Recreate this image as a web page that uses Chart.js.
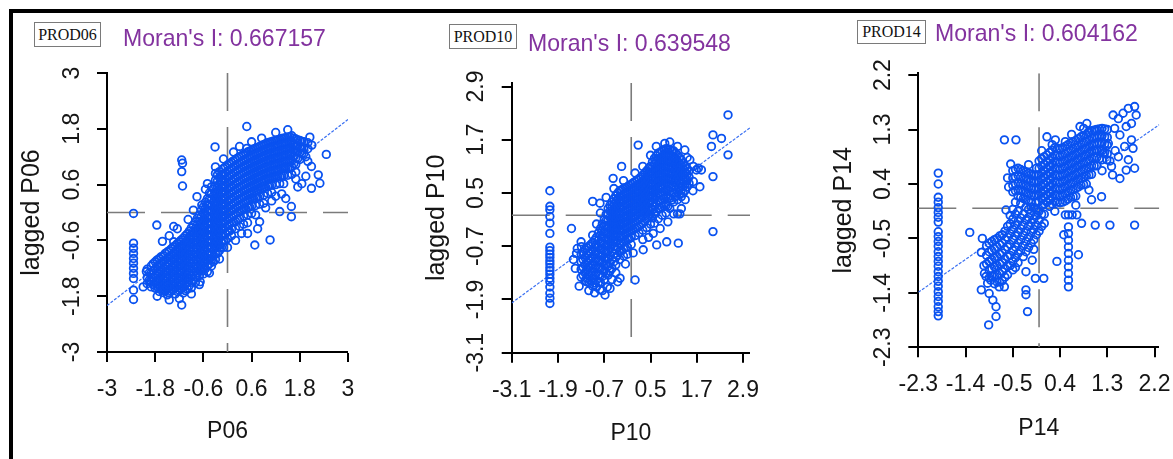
<!DOCTYPE html>
<html><head><meta charset="utf-8">
<script src="https://cdn.jsdelivr.net/npm/chart.js@4.4.1/dist/chart.umd.min.js"></script>
<style>
html,body{margin:0;padding:0;background:#fff;}
#wrap{position:relative;width:1173px;height:459px;overflow:hidden;background:#fff;}
#wrap canvas{position:absolute;top:0;}
.frame{position:absolute;left:9px;top:9px;width:1200px;height:500px;border-top:4px solid #000;border-left:4px solid #000;z-index:5;pointer-events:none;}
.box{position:absolute;font-family:"Liberation Serif","Times New Roman",serif;font-size:16px;color:#111;border:1px solid #7a7a7a;text-align:center;box-sizing:border-box;z-index:6;background:#fff;}
.moran{position:absolute;font-family:"Liberation Sans",Arial,sans-serif;font-size:24px;color:#83339f;white-space:nowrap;line-height:1;transform:scaleX(0.96);transform-origin:0 0;z-index:6;}
</style>
</head><body>
<div id="wrap"><div class="frame"></div></div>
<script>
// ---------- DATA ----------
const moranI = [0.667157, 0.639548, 0.604162];
const prodNames = ['PROD06', 'PROD10', 'PROD14'];
const xTitles = ['P06', 'P10', 'P14'];
const yTitles = ['lagged P06', 'lagged P10', 'lagged P14'];

const p06Ticks = [-3, -1.8, -0.6, 0.6, 1.8, 3];
const p06TickLabels = ['-3', '-1.8', '-0.6', '0.6', '1.8', '3'];
const p10Ticks = [-3.1, -1.9, -0.7, 0.5, 1.7, 2.9];
const p10TickLabels = ['-3.1', '-1.9', '-0.7', '0.5', '1.7', '2.9'];
const p14Ticks = [-2.3, -1.4, -0.5, 0.4, 1.3, 2.2];
const p14TickLabels = ['-2.3', '-1.4', '-0.5', '0.4', '1.3', '2.2'];

const p06XRange = [-3, 3], p06YRange = [-3, 3];
const p10XRange = [-3.1, 3.08], p10YRange = [-3.1, 2.98];
const p14XRange = [-2.3, 2.29], p14YRange = [-2.3, 2.23];

const p06Fit = [[-3, -2.0], [3, 2.0]];
const p10Fit = [[-3.1, -1.98], [3.08, 1.97]];
const p14Fit = [[-2.3, -1.39], [2.29, 1.38]];

// dense parts read column by column: [x, [y values]]
const p06Cols = [
 [-2.34,[-0.02,-0.66,-0.77,-0.88,-0.99,-1.09,-1.2,-1.31,-1.42,-1.67,-1.87]],
 [-2.0,[-1.22,-1.4,-1.53]],
 [-1.95,[-1.3,-1.46]],
 [-1.9,[-1.15,-1.3,-1.47,-1.6]],
 [-1.85,[-1.1,-1.25,-1.4,-1.55]],
 [-1.8,[-1.06,-1.21,-1.35,-1.5,-1.63]],
 [-1.75,[-1.02,-1.17,-1.31,-1.46,-1.6]],
 [-1.7,[-0.99,-1.12,-1.28,-1.41,-1.56,-1.7]],
 [-1.65,[-0.95,-1.09,-1.24,-1.37,-1.51,-1.64]],
 [-1.6,[-0.93,-1.05,-1.2,-1.32,-1.46,-1.58,-1.72]],
 [-1.55,[-0.88,-1.02,-1.15,-1.29,-1.42,-1.55,-1.69]],
 [-1.5,[-0.85,-0.99,-1.11,-1.26,-1.38,-1.52,-1.64,-1.77]],
 [-1.45,[-0.82,-0.95,-1.08,-1.22,-1.35,-1.48,-1.61,-1.73]],
 [-1.4,[-0.78,-0.92,-1.04,-1.18,-1.3,-1.44,-1.56,-1.69]],
 [-1.35,[-0.74,-0.88,-1.01,-1.14,-1.27,-1.4,-1.53,-1.66]],
 [-1.3,[-0.71,-0.84,-0.98,-1.1,-1.24,-1.36,-1.5,-1.62,-1.75]],
 [-1.25,[-0.67,-0.8,-0.93,-1.06,-1.19,-1.32,-1.45,-1.58,-1.7]],
 [-1.2,[-0.63,-0.77,-0.89,-1.03,-1.15,-1.29,-1.41,-1.55,-1.67]],
 [-1.15,[-0.59,-0.72,-0.86,-0.99,-1.12,-1.25,-1.38,-1.51,-1.64]],
 [-1.1,[-0.55,-0.69,-0.83,-0.95,-1.09,-1.21,-1.35,-1.47,-1.61,-1.73]],
 [-1.05,[-0.5,-0.64,-0.77,-0.9,-1.03,-1.16,-1.29,-1.42,-1.55,-1.68]],
 [-1.0,[-0.46,-0.61,-0.73,-0.87,-0.99,-1.13,-1.25,-1.39,-1.51,-1.65]],
 [-0.95,[-0.4,-0.53,-0.66,-0.79,-0.92,-1.05,-1.18,-1.31,-1.44,-1.57]],
 [-0.9,[-0.33,-0.47,-0.59,-0.73,-0.85,-0.99,-1.11,-1.25,-1.37,-1.5,-1.62]],
 [-0.85,[-0.27,-0.4,-0.53,-0.66,-0.79,-0.92,-1.05,-1.18,-1.31,-1.44]],
 [-0.8,[-0.2,-0.34,-0.48,-0.6,-0.74,-0.86,-1.0,-1.12,-1.26,-1.38,-1.51]],
 [-0.75,[-0.12,-0.26,-0.39,-0.52,-0.65,-0.78,-0.91,-1.04,-1.17,-1.3]],
 [-0.7,[-0.05,-0.19,-0.33,-0.45,-0.59,-0.71,-0.85,-0.97,-1.11,-1.23,-1.36]],
 [-0.65,[0.05,-0.09,-0.22,-0.35,-0.48,-0.61,-0.74,-0.87,-1.0,-1.13,-1.26]],
 [-0.6,[0.12,-0.02,-0.16,-0.28,-0.42,-0.54,-0.68,-0.8,-0.94,-1.06,-1.2,-1.32]],
 [-0.55,[0.22,0.09,-0.04,-0.17,-0.3,-0.43,-0.56,-0.69,-0.82,-0.95,-1.08,-1.21]],
 [-0.5,[0.3,0.16,0.03,-0.11,-0.23,-0.37,-0.49,-0.63,-0.75,-0.89,-1.01,-1.15,-1.27]],
 [-0.45,[0.42,0.29,0.16,0.03,-0.1,-0.23,-0.36,-0.49,-0.62,-0.75,-0.88,-1.0,-1.1]],
 [-0.4,[0.55,0.41,0.28,0.14,0.02,-0.12,-0.24,-0.38,-0.5,-0.64,-0.76,-0.9,-1.02,-1.15]],
 [-0.35,[0.5,0.36,0.23,0.1,-0.03,-0.16,-0.29,-0.42,-0.55,-0.68,-0.81,-0.94,-1.06]],
 [-0.3,[0.98,0.84,0.7,0.57,0.42,0.3,0.16,0.04,-0.1,-0.22,-0.36,-0.48,-0.62,-0.74,-0.88,-1.01]],
 [-0.25,[0.81,0.68,0.55,0.42,0.29,0.16,0.03,-0.1,-0.23,-0.36,-0.49,-0.62,-0.75,-0.88]],
 [-0.2,[0.88,0.75,0.61,0.49,0.35,0.23,0.09,-0.03,-0.17,-0.29,-0.43,-0.55,-0.69,-0.82]],
 [-0.15,[0.82,0.68,0.55,0.42,0.29,0.16,0.03,-0.1,-0.23,-0.36,-0.49,-0.62,-0.75]],
 [-0.1,[0.95,0.81,0.69,0.55,0.43,0.29,0.17,0.03,-0.09,-0.23,-0.35,-0.49,-0.61,-0.75]],
 [-0.05,[0.98,0.85,0.72,0.59,0.46,0.33,0.2,0.07,-0.06,-0.19,-0.32,-0.45,-0.6]],
 [0.0,[1.02,0.89,0.75,0.63,0.49,0.37,0.23,0.11,-0.03,-0.15,-0.29,-0.41,-0.56]],
 [0.05,[1.05,0.92,0.79,0.66,0.53,0.4,0.27,0.14,0.01,-0.12,-0.25,-0.4]],
 [0.1,[1.08,0.94,0.82,0.68,0.56,0.42,0.3,0.16,0.04,-0.1,-0.22,-0.36,-0.5]],
 [0.15,[1.11,0.98,0.85,0.72,0.59,0.46,0.33,0.2,0.07,-0.06,-0.2]],
 [0.2,[1.14,1.01,0.87,0.75,0.61,0.49,0.35,0.23,0.09,-0.03,-0.19,-0.35]],
 [0.25,[1.17,1.04,0.91,0.78,0.65,0.52,0.39,0.26,0.13,0.0,-0.15]],
 [0.3,[1.2,1.06,0.94,0.8,0.68,0.54,0.42,0.28,0.16,0.02,-0.13,-0.3]],
 [0.35,[1.22,1.09,0.96,0.83,0.7,0.57,0.44,0.31,0.18,0.05]],
 [0.4,[1.25,1.12,0.98,0.86,0.72,0.6,0.46,0.34,0.2,0.08,-0.08,-0.25]],
 [0.45,[1.27,1.14,1.01,0.88,0.75,0.62,0.49,0.36,0.23,0.09]],
 [0.5,[1.3,1.16,1.04,0.9,0.78,0.64,0.52,0.38,0.26,0.11,-0.05,-0.22]],
 [0.55,[1.32,1.19,1.06,0.93,0.8,0.67,0.54,0.41,0.28,0.12]],
 [0.6,[1.34,1.21,1.07,0.95,0.81,0.69,0.55,0.43,0.29,0.14,-0.02]],
 [0.65,[1.36,1.23,1.1,0.97,0.84,0.71,0.58,0.45,0.3]],
 [0.7,[1.38,1.24,1.12,0.98,0.86,0.72,0.6,0.46,0.31,0.15,-0.05]],
 [0.75,[1.4,1.27,1.14,1.01,0.88,0.75,0.62,0.48,0.33]],
 [0.8,[1.42,1.29,1.15,1.03,0.89,0.77,0.63,0.5,0.34,0.18]],
 [0.85,[1.44,1.31,1.18,1.05,0.92,0.79,0.66,0.52]],
 [0.9,[1.46,1.32,1.2,1.06,0.94,0.8,0.68,0.53,0.37,0.2]],
 [0.95,[1.48,1.35,1.22,1.09,0.96,0.83,0.7,0.55]],
 [1.0,[1.5,1.37,1.23,1.11,0.97,0.85,0.71,0.57,0.41]],
 [1.05,[1.51,1.38,1.25,1.12,0.99,0.86,0.72,0.58]],
 [1.1,[1.52,1.38,1.26,1.12,1.0,0.86,0.74,0.59,0.43]],
 [1.15,[1.54,1.41,1.28,1.15,1.02,0.89,0.75]],
 [1.2,[1.55,1.42,1.28,1.16,1.02,0.9,0.75,0.6]],
 [1.25,[1.56,1.43,1.3,1.17,1.04,0.91,0.77]],
 [1.3,[1.57,1.43,1.31,1.17,1.05,0.91,0.77,0.62]],
 [1.35,[1.59,1.46,1.33,1.2,1.07,0.93,0.79]],
 [1.4,[1.6,1.47,1.33,1.21,1.07,0.95,0.79,0.62]],
 [1.45,[1.61,1.48,1.35,1.22,1.09,0.95]],
 [1.5,[1.62,1.48,1.36,1.22,1.1,0.95,0.8]],
 [1.55,[1.63,1.5,1.37,1.24,1.1,0.96]],
 [1.6,[1.65,1.52,1.38,1.26,1.11,0.98,0.82]],
 [1.65,[1.6,1.47,1.34,1.2,1.05]],
 [1.7,[1.58,1.44,1.32,1.17,1.03,0.87]],
 [1.75,[1.56,1.43,1.3,1.16]],
 [1.8,[1.55,1.42,1.28,1.14]],
 [1.85,[1.53,1.4,1.27]],
 [1.9,[1.52,1.39,1.27]],
 [2.0,[1.5,1.37]],
 [2.1,[1.45]]
];
const p06Extra = [
 [-1.14,1.13],[-1.12,1.06],[-1.14,0.88],[-1.12,0.57],[-1.76,-0.27],[-1.34,-0.30],[-1.14,-1.99],
 [-0.31,1.41],[0.48,1.85],[0.48,1.38],[2.46,1.25],[2.09,0.52],[2.30,0.63],[2.26,0.81],[2.09,0.99],
 [1.59,0.13],[1.59,-0.09],[1.30,0.02],[0.68,-0.70],[1.06,-0.59],[-0.76,0.34],[-0.64,0.16],[-1.34,-0.63],
 [-2.02,-1.27],[-1.92,-1.49],[-1.59,-1.67],[-1.51,-1.6],[-0.68,-1.49],[1.85,0.62],[1.95,0.78],[1.2,0.35],
 [0.95,0.1],[0.8,-0.2],[0.35,-0.45],[1.45,0.3],[1.7,0.72],[2.0,1.1],
 [-1.62,-0.62],[-1.45,-0.5],[-1.25,-0.35],[-0.98,-0.15],[-0.85,0.05],[-0.55,0.5],[-0.5,0.62],[-0.1,1.15],
 [0.15,1.3],[0.3,1.42],[0.6,1.52],[0.85,1.6],[1.2,1.72],[1.5,1.78],[2.05,1.62],[1.95,1.2],[1.75,0.55],
 [1.35,0.4],[1.1,0.25],[0.75,-0.35],[0.5,-0.45],[0.2,-0.6],[0.0,-0.75],[-0.2,-1.0],[-0.45,-1.3],
 [-0.7,-1.55],[-0.9,-1.75],[-1.2,-1.85],[-1.45,-1.88],[-1.75,-1.8],[-2.1,-1.6]
];

const p10Cols = [
 [-2.11,[0.55,0.2,0.12,-0.03,-0.18,-0.41,-0.72,-0.8,-0.88,-0.95,-1.03,-1.1,-1.18,-1.25,-1.33,-1.42,-1.5,-1.62,-1.76,-1.87,-1.99]],
 [-1.3,[-0.88,-1.05,-1.22,-1.4]],
 [-1.25,[-0.83,-1.0,-1.17,-1.35]],
 [-1.2,[-0.78,-0.95,-1.12,-1.3,-1.48]],
 [-1.15,[-0.74,-0.9,-1.07,-1.24,-1.42]],
 [-1.1,[-0.7,-0.86,-1.02,-1.18,-1.35,-1.52]],
 [-1.05,[-0.66,-0.82,-0.98,-1.14,-1.3,-1.47]],
 [-1.0,[-0.62,-0.78,-0.94,-1.1,-1.26,-1.42,-1.6]],
 [-0.95,[-0.56,-0.72,-0.88,-1.04,-1.2,-1.36,-1.53]],
 [-0.9,[-0.5,-0.66,-0.82,-0.98,-1.14,-1.3,-1.46,-1.62]],
 [-0.85,[-0.4,-0.56,-0.72,-0.88,-1.04,-1.2,-1.36,-1.52]],
 [-0.8,[-0.3,-0.45,-0.6,-0.75,-0.9,-1.05,-1.2,-1.36,-1.52]],
 [-0.75,[-0.2,-0.35,-0.5,-0.64,-0.78,-0.92,-1.07,-1.22,-1.38]],
 [-0.7,[-0.1,-0.24,-0.38,-0.52,-0.66,-0.8,-0.95,-1.1,-1.26,-1.45]],
 [-0.65,[0.02,-0.12,-0.26,-0.4,-0.54,-0.68,-0.82,-0.97,-1.12,-1.3]],
 [-0.6,[0.15,0.02,-0.12,-0.26,-0.4,-0.54,-0.68,-0.82,-0.98,-1.15,-1.35]],
 [-0.55,[0.22,0.09,-0.05,-0.19,-0.33,-0.47,-0.61,-0.75,-0.9,-1.08,-1.26]],
 [-0.5,[0.3,0.17,0.04,-0.1,-0.24,-0.38,-0.52,-0.66,-0.82,-1.0,-1.2]],
 [-0.45,[0.37,0.24,0.11,-0.03,-0.16,-0.29,-0.42,-0.56,-0.7,-0.87,-1.05]],
 [-0.4,[0.44,0.31,0.18,0.05,-0.08,-0.21,-0.34,-0.48,-0.62,-0.78,-0.95,-1.12]],
 [-0.35,[0.5,0.37,0.24,0.1,-0.03,-0.16,-0.29,-0.43,-0.57,-0.72,-0.9]],
 [-0.3,[0.55,0.42,0.29,0.16,0.03,-0.1,-0.23,-0.36,-0.5,-0.65,-0.82,-1.0]],
 [-0.25,[0.57,0.44,0.31,0.18,0.05,-0.08,-0.21,-0.34,-0.48,-0.63,-0.8]],
 [-0.2,[0.6,0.47,0.34,0.21,0.08,-0.05,-0.18,-0.31,-0.45,-0.6,-0.76,-0.92]],
 [-0.15,[0.62,0.49,0.36,0.23,0.1,-0.03,-0.16,-0.29,-0.43,-0.58,-0.74]],
 [-0.1,[0.64,0.51,0.38,0.25,0.12,-0.01,-0.14,-0.27,-0.4,-0.55,-0.72,-0.88]],
 [-0.05,[0.67,0.54,0.41,0.28,0.15,0.02,-0.11,-0.24,-0.38,-0.53]],
 [0.0,[0.7,0.57,0.44,0.31,0.18,0.05,-0.08,-0.21,-0.35,-0.5,-0.66]],
 [0.05,[0.73,0.6,0.47,0.34,0.21,0.08,-0.05,-0.18,-0.33]],
 [0.1,[0.76,0.63,0.5,0.37,0.24,0.11,-0.02,-0.15,-0.3,-0.46]],
 [0.15,[0.79,0.66,0.53,0.4,0.27,0.14,0.01,-0.13,-0.28]],
 [0.2,[0.82,0.69,0.56,0.43,0.3,0.17,0.04,-0.1,-0.25,-0.4]],
 [0.25,[0.86,0.73,0.6,0.47,0.34,0.21,0.08,-0.06,-0.21]],
 [0.3,[0.9,0.77,0.64,0.51,0.38,0.25,0.12,-0.02,-0.18,-0.34]],
 [0.35,[0.95,0.82,0.69,0.56,0.43,0.3,0.17,0.03,-0.13]],
 [0.4,[1.0,0.87,0.74,0.61,0.48,0.35,0.22,0.08,-0.08,-0.28]],
 [0.45,[1.05,0.92,0.79,0.66,0.53,0.4,0.27,0.13,-0.03]],
 [0.5,[1.1,0.97,0.84,0.71,0.58,0.45,0.32,0.18,0.02,-0.2]],
 [0.55,[1.2,1.07,0.94,0.81,0.68,0.55,0.42,0.28,0.12,-0.06]],
 [0.6,[1.28,1.15,1.02,0.89,0.76,0.63,0.5,0.36,0.2,0.02,-0.18]],
 [0.65,[1.34,1.21,1.08,0.95,0.82,0.69,0.56,0.42,0.26,0.08]],
 [0.7,[1.4,1.27,1.14,1.01,0.88,0.75,0.62,0.48,0.32,0.14,-0.08]],
 [0.75,[1.42,1.29,1.16,1.03,0.9,0.77,0.64,0.5,0.34,0.16]],
 [0.8,[1.45,1.32,1.19,1.06,0.93,0.8,0.67,0.52,0.36,0.18,0.0]],
 [0.85,[1.47,1.34,1.21,1.08,0.95,0.82,0.69,0.54,0.38,0.2]],
 [0.9,[1.5,1.37,1.24,1.11,0.98,0.85,0.72,0.57,0.4,0.22,0.05]],
 [0.95,[1.49,1.36,1.23,1.1,0.97,0.84,0.71,0.56,0.39,0.2]],
 [1.0,[1.48,1.35,1.22,1.09,0.96,0.83,0.7,0.55,0.38,0.15]],
 [1.05,[1.46,1.33,1.2,1.07,0.94,0.81,0.68,0.52,0.34]],
 [1.1,[1.45,1.32,1.19,1.06,0.93,0.8,0.66,0.5,0.3]],
 [1.15,[1.4,1.27,1.14,1.01,0.88,0.74,0.59,0.42]],
 [1.2,[1.35,1.22,1.09,0.96,0.83,0.68,0.52,0.35]],
 [1.25,[1.3,1.17,1.04,0.91,0.78,0.62,0.47]],
 [1.3,[1.25,1.12,0.99,0.86,0.72,0.56,0.42]],
 [1.35,[1.17,1.04,0.91,0.78,0.64,0.5]],
 [1.4,[1.1,0.97,0.84,0.7,0.56]],
 [1.45,[1.05,0.92,0.78,0.64]],
 [1.5,[1.0,0.86,0.72]]
];
const p10Extra = [
 [-1.55,-0.3],[-1.0,0.31],[-0.81,0.27],[-0.25,1.1],[-0.47,0.83],[0.18,1.58],[0.87,1.62],[2.51,2.26],
 [2.12,1.81],[2.34,1.73],[2.08,1.55],[2.51,1.36],[2.12,0.87],[1.69,1.02],[1.78,0.64],[1.61,0.76],
 [2.12,-0.37],[1.22,-0.63],[0.92,-0.6],[0.66,-0.67],[0.31,-0.78],[0.1,-1.46],[-0.68,-1.8],[-0.29,-1.42],
 [-0.81,-1.68],[-1.16,-1.5],[-1.42,-0.86],[-1.29,-0.71],[1.39,1.47],[1.52,1.25],[1.61,1.1],[1.74,1.06],
 [1.82,1.02],[1.09,1.25],[1.1,0.03],[1.2,0.03],[1.26,0.03],[0.57,-0.41],[0.45,-0.5],[-0.62,-1.62],
 [-0.5,-1.45],[-0.95,-1.75],[-0.4,-1.3],[-1.45,-1.2],[-1.5,-1.0],
 [-1.4,-0.75],[-1.3,-0.6],[-1.0,-0.45],[-0.9,-0.2],[-0.8,0.05],[-0.65,0.4],[-0.45,0.6],[-0.2,0.78],
 [0.1,0.95],[0.3,1.1],[0.5,1.35],[0.65,1.55],[1.0,1.65],[1.2,1.55],[1.45,1.3],[1.6,0.55],[1.4,0.35],
 [1.3,0.15],[0.95,-0.15],[0.75,-0.3],[0.3,-0.55],[0.05,-0.85],[-0.15,-1.1],[-0.35,-1.5],[-0.55,-1.65],
 [-0.75,-1.7],[-1.1,-1.7],[-1.35,-1.6]
];

const p14Cols = [
 [-1.92,[0.58,0.4,0.18,0.1,0.01,-0.07,-0.15,-0.23,-0.39,-0.47,-0.55,-0.63,-0.72,-0.8,-0.88,-0.96,-1.05,-1.13,-1.21,-1.29,-1.38,-1.46,-1.54,-1.63,-1.71,-1.78]],
 [-1.0,[-0.62,-0.78,-0.92]],
 [-0.95,[-0.58,-0.72,-0.88,-1.02,-1.15]],
 [-0.9,[-0.55,-0.7,-0.85,-1.0,-1.12]],
 [-0.85,[-0.52,-0.67,-0.82,-0.97,-1.12,-1.25]],
 [-0.8,[-0.5,-0.64,-0.8,-0.95,-1.1,-1.22]],
 [-0.75,[-0.46,-0.6,-0.76,-0.92,-1.08,-1.22]],
 [-0.7,[-0.44,-0.58,-0.74,-0.9,-1.05,-1.2]],
 [-0.65,[-0.38,-0.52,-0.68,-0.84,-1.0,-1.14]],
 [-0.6,[-0.3,-0.48,-0.64,-0.8,-0.95,-1.1]],
 [-0.55,[-0.12,-0.26,-0.42,-0.6,-0.78,-0.95]],
 [-0.5,[0.62,0.5,0.38,0.27,-0.02,-0.18,-0.35,-0.52,-0.7,-0.88,-1.02]],
 [-0.45,[0.64,0.52,0.4,0.29,0.1,-0.1,-0.28,-0.46,-0.64,-0.82]],
 [-0.4,[0.66,0.54,0.42,0.3,0.2,-0.05,-0.22,-0.4,-0.58,-0.75,-0.9]],
 [-0.35,[0.64,0.52,0.4,0.29,0.18,0.08,-0.16,-0.34,-0.52,-0.7]],
 [-0.3,[0.62,0.5,0.39,0.28,0.16,-0.1,-0.28,-0.45,-0.62,-0.8]],
 [-0.25,[0.6,0.48,0.37,0.26,0.14,0.02,-0.2,-0.38,-0.55,-0.72]],
 [-0.2,[0.58,0.47,0.35,0.24,0.12,-0.02,-0.15,-0.3,-0.48,-0.65]],
 [-0.15,[0.56,0.45,0.33,0.22,0.1,0.02,-0.08,-0.24,-0.4,-0.58]],
 [-0.1,[0.55,0.43,0.32,0.2,0.0,-0.18,-0.35,-0.52]],
 [-0.05,[0.66,0.55,0.44,0.33,0.22,0.1,-0.02,-0.12,-0.28,-0.44]],
 [0.0,[0.78,0.66,0.55,0.44,0.33,0.22,0.11,-0.05,-0.2,-0.38]],
 [0.05,[0.82,0.7,0.59,0.48,0.37,0.26,0.15,0.04,-0.1,-0.3]],
 [0.1,[0.85,0.73,0.62,0.51,0.4,0.29,0.18,0.07,-0.1,-0.25]],
 [0.15,[0.88,0.77,0.66,0.55,0.44,0.33,0.22,0.1]],
 [0.2,[0.92,0.8,0.69,0.58,0.47,0.36,0.25,0.14,0.03]],
 [0.25,[0.96,0.84,0.73,0.62,0.51,0.4,0.29,0.18,0.07]],
 [0.3,[1.0,0.88,0.77,0.66,0.55,0.44,0.33,0.22,0.11]],
 [0.35,[0.99,0.87,0.76,0.65,0.54,0.43,0.32,0.21,0.1]],
 [0.4,[0.98,0.86,0.75,0.64,0.53,0.42,0.31,0.2,0.09]],
 [0.45,[1.0,0.88,0.77,0.66,0.55,0.44,0.33,0.22,0.1]],
 [0.5,[1.02,0.9,0.79,0.68,0.57,0.46,0.35,0.24,0.12]],
 [0.55,[1.05,0.93,0.82,0.71,0.6,0.49,0.38,0.27,0.15]],
 [0.6,[1.08,0.96,0.85,0.74,0.63,0.52,0.41,0.3,0.18]],
 [0.65,[1.1,0.98,0.87,0.76,0.65,0.54,0.43,0.31,0.19]],
 [0.7,[1.12,1.0,0.89,0.78,0.67,0.56,0.45,0.33,0.2]],
 [0.75,[1.15,1.03,0.92,0.81,0.7,0.59,0.48,0.35]],
 [0.8,[1.18,1.06,0.95,0.84,0.73,0.62,0.5,0.38]],
 [0.85,[1.2,1.08,0.97,0.86,0.75,0.64,0.52,0.39]],
 [0.9,[1.22,1.1,0.99,0.88,0.77,0.66,0.54,0.4]],
 [0.95,[1.25,1.13,1.02,0.91,0.8,0.68,0.55]],
 [1.0,[1.28,1.16,1.05,0.94,0.83,0.7,0.56]],
 [1.05,[1.29,1.17,1.06,0.95,0.84,0.7]],
 [1.1,[1.3,1.18,1.07,0.96,0.84,0.7]],
 [1.15,[1.31,1.19,1.07,0.95,0.82]],
 [1.2,[1.32,1.2,1.08,0.95,0.8]],
 [1.25,[1.31,1.18,1.06,0.92]],
 [1.3,[1.3,1.17,1.04,0.9]],
 [0.56,[-0.31,-0.42,-0.53,-0.64,-0.75,-0.86,-0.97,-1.08,-1.19,-1.3]]
];
const p14Extra = [
 [-1.32,-0.40],[-1.1,-0.73],[-1.1,-1.35],[-1.01,-1.13],[-0.98,-1.24],[-0.95,-1.41],[-0.88,-1.52],[-0.95,-0.88],
 [-0.82,-1.63],[-0.96,-1.93],[-0.82,-1.79],[-0.76,-1.3],[-0.66,-1.3],[-1.04,-1.08],[-0.92,-1.19],
 [-0.25,-1.35],[-0.25,-1.43],[-0.22,-1.71],[-0.07,-1.16],[0.09,-1.16],[-0.25,-1.05],[-0.13,-0.86],
 [-0.66,1.13],[-0.44,1.13],[-0.54,0.73],[0.15,1.18],[0.31,1.13],[0.5,1.1],
 [0.34,-0.88],[0.75,-0.77],[0.47,-0.44],[0.5,-0.11],[0.56,-0.11],[0.63,-0.11],[0.72,-0.11],
 [0.81,-0.25],[1.07,-0.28],[1.35,-0.28],[1.82,-0.28],[1.0,0.14],[1.19,0.19],[-0.63,-0.03],
 [1.41,1.54],[1.51,1.48],[1.6,1.57],[1.7,1.65],[1.82,1.68],[1.85,1.54],[1.76,1.4],[1.66,1.35],
 [1.44,1.32],[1.54,1.21],[1.76,1.13],[1.63,1.02],[1.79,0.99],[1.51,0.85],[1.7,0.8],[1.82,0.66],
 [1.66,0.63],[1.54,0.49],[1.38,0.69],[1.29,0.8],[1.32,1.07],[1.19,1.18],[1.07,1.29],[0.91,1.4],
 [0.78,1.35],[0.94,1.26],[1.1,0.96],[1.22,0.91],[1.45,0.95],[1.4,0.55],
 [-0.58,0.35],[-0.6,0.5],[-0.2,0.72],[0.05,0.95],[0.25,1.05],[0.62,1.22],[0.85,1.32],[1.35,0.78],
 [1.2,0.62],[0.95,0.3],[0.7,0.05],[0.3,-0.05],[-1.08,-0.5],[-1.05,-0.95],[-0.45,-0.98],[-0.1,-0.68]
];

// ---------- LAYOUT (page pixel geometry of each panel) ----------
const panels = [
 {cx:0,   cw:400, L:107,   R:348,   T:73,   B:352,   ticks:p06Ticks, labels:p06TickLabels, xr:p06XRange, yr:p06YRange, fit:p06Fit, cols:p06Cols, extra:p06Extra, xPadB:15.5,
  box:{l:34,t:22,w:67,h:25}, mor:{l:123,t:26}},
 {cx:405, cw:375, L:511.7, R:750,   T:83,   B:352.7, ticks:p10Ticks, labels:p10TickLabels, xr:p10XRange, yr:p10YRange, fit:p10Fit, cols:p10Cols, extra:p10Extra, xPadB:13.5,
  box:{l:449,t:24,w:68,h:25}, mor:{l:528,t:31}},
 {cx:810, cw:375, L:918.3, R:1161.7,T:73.3, B:347.3, ticks:p14Ticks, labels:p14TickLabels, xr:p14XRange, yr:p14YRange, fit:p14Fit, cols:p14Cols, extra:p14Extra, xPadB:18.5,
  box:{l:857,t:20,w:69,h:24}, mor:{l:935,t:21}}
];

const wrap = document.getElementById('wrap');
const FONT = '"Liberation Sans", Arial, sans-serif';

panels.forEach((p, i) => {
  const cv = document.createElement('canvas');
  cv.width = p.cw; cv.height = 459;
  cv.style.left = p.cx + 'px'; cv.style.width = p.cw + 'px'; cv.style.height = '459px';
  wrap.appendChild(cv);

  const box = document.createElement('div');
  box.className = 'box';
  Object.assign(box.style, {left:p.box.l+'px', top:p.box.t+'px', width:p.box.w+'px', height:p.box.h+'px', lineHeight:(p.box.h-2)+'px'});
  box.textContent = prodNames[i];
  wrap.appendChild(box);

  const mt = document.createElement('div');
  mt.className = 'moran';
  Object.assign(mt.style, {left:p.mor.l+'px', top:p.mor.t+'px'});
  mt.textContent = "Moran's I: " + moranI[i].toFixed(6);
  wrap.appendChild(mt);

  const pts = [];
  p.cols.forEach(([x, ys]) => ys.forEach(y => pts.push({x, y})));
  p.extra.forEach(([x, y]) => pts.push({x, y}));

  const tickFont = {family: FONT, size: 23};
  new Chart(cv, {
    type: 'scatter',
    data: { datasets: [
      { data: pts, pointStyle: 'circle', pointRadius: 3.8, pointBorderWidth: 1.8,
        pointBorderColor: '#0a52f0', pointBackgroundColor: 'rgba(0,0,0,0)', showLine: false, order: 0 },
      { type: 'line', data: p.fit.map(([x, y]) => ({x, y})), borderColor: '#3a70f2', borderWidth: 1.2,
        borderDash: [3, 1.5], pointRadius: 0, fill: false, order: 1 },
      { type: 'line', data: [{x: 0, y: p.yr[1]}, {x: 0, y: p.yr[0]}], borderColor: '#7b7b7b', borderWidth: 1.6,
        borderDash: [38, 16], pointRadius: 0, fill: false, order: 2 },
      { type: 'line', data: [{x: p.xr[0], y: 0}, {x: p.xr[1], y: 0}], borderColor: '#7b7b7b', borderWidth: 1.6,
        borderDash: [38, 16], pointRadius: 0, fill: false, order: 3 }
    ]},
    options: {
      responsive: false, animation: false, devicePixelRatio: 1, events: [],
      layout: { padding: { left: 0, right: p.cx + p.cw - p.R, top: p.T, bottom: 0 } },
      plugins: { legend: {display: false}, tooltip: {enabled: false}, title: {display: false} },
      scales: {
        x: {
          type: 'linear', min: p.xr[0], max: p.xr[1],
          afterBuildTicks: s => { s.ticks = p.ticks.map(v => ({value: v})); },
          afterFit: s => { s.height = 459 - p.B; },
          ticks: { autoSkip: false, minRotation: 0, maxRotation: 0, padding: 14, color: '#151515', font: tickFont,
                   callback: (v, idx) => p.labels[idx] },
          grid: { drawOnChartArea: false, drawTicks: true, tickLength: 10, tickColor: '#000', tickWidth: 2, color: '#000', lineWidth: 0 },
          border: { display: true, color: '#000', width: 2 },
          title: { display: true, text: xTitles[i], color: '#151515', font: {family: FONT, size: 23, lineHeight: 1},
                   padding: {top: 0, bottom: p.xPadB} }
        },
        y: {
          type: 'linear', min: p.yr[0], max: p.yr[1],
          afterBuildTicks: s => { s.ticks = p.ticks.map(v => ({value: v})); },
          afterFit: s => { s.width = p.L - p.cx; },
          ticks: { autoSkip: false, minRotation: 90, maxRotation: 90, crossAlign: 'center', padding: 5, color: '#151515', font: tickFont,
                   callback: (v, idx) => p.labels[idx] },
          grid: { drawOnChartArea: false, drawTicks: true, tickLength: 10, tickColor: '#000', tickWidth: 2, color: '#000', lineWidth: 0 },
          border: { display: true, color: '#000', width: 2 },
          title: { display: true, text: yTitles[i], color: '#151515', font: {family: FONT, size: 25, lineHeight: 1},
                   padding: {top: p.L - 74.5 - p.cx - 12.5, bottom: 0} }
        }
      }
    }
  });
});
</script>
</body></html>
